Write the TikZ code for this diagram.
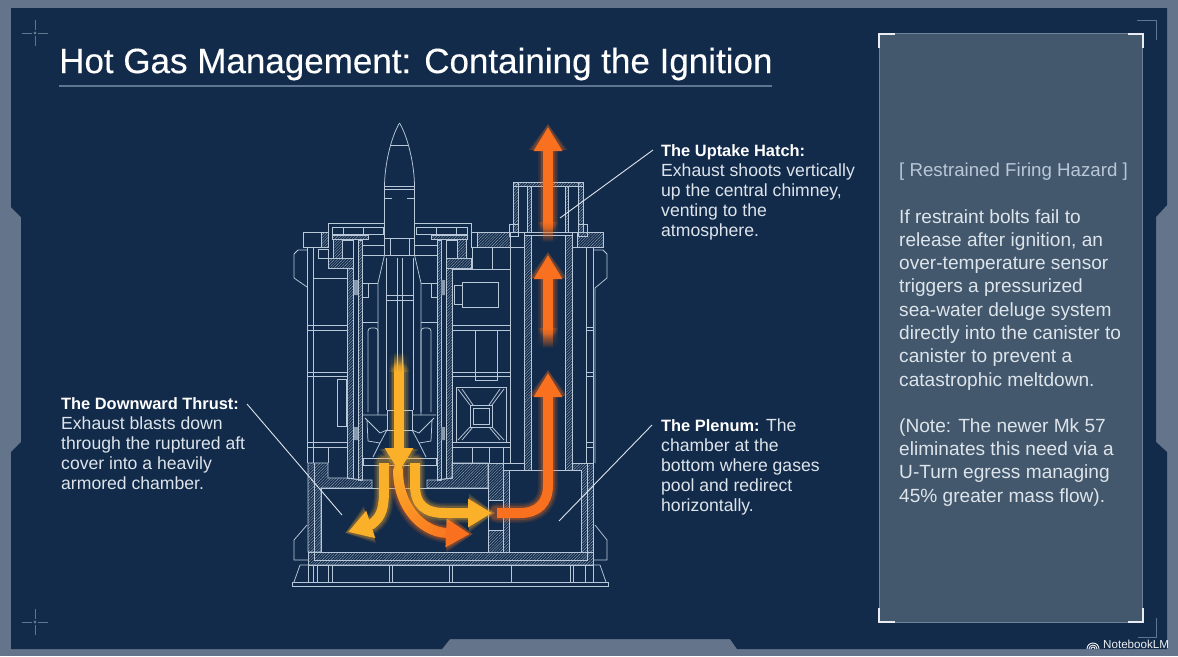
\documentclass[tikz,border=0pt]{standalone}
\usepackage{fontspec}
\setmainfont{Liberation Sans}
\usetikzlibrary{arrows.meta, patterns.meta, fadings, decorations.markings}
\definecolor{framegrey}{HTML}{64748A}
\definecolor{navybg}{HTML}{132B4A}
\definecolor{panelgrey}{HTML}{43586C}
\definecolor{panelline}{HTML}{6E8399}
\definecolor{wirecol}{HTML}{B9C8D8}
\definecolor{hatchcol}{HTML}{8FA3B8}
\definecolor{markcol}{HTML}{5F7690}
\definecolor{flowyellow}{HTML}{FBB02A}
\definecolor{floworange}{HTML}{F9701E}
\definecolor{bodytext}{HTML}{DDE4EB}
\tikzstyle{wire} = [draw=wirecol, line width=0.75pt]
\tikzstyle{hatchwall} = [wire, pattern={Lines[angle=45,distance=2pt,line width=0.4pt]}, pattern color=hatchcol]
\tikzstyle{leader} = [draw=bodytext, line width=0.9pt]
\tikzstyle{bracket} = [draw=white!85!panelline, line width=2.5pt]
\tikzstyle{outerbracket} = [draw=markcol, line width=1pt]
\tikzstyle{callout} = [anchor=north west, align=left, inner sep=0pt, text=bodytext, font=\fontsize{17.6}{20}\selectfont]
\tikzstyle{panelnote} = [anchor=north west, align=left, inner sep=0pt, text=bodytext, font=\fontsize{19.1}{23.3}\selectfont]
\tikzfading[name=fadedown, top color=transparent!0, bottom color=transparent!100]
\tikzfading[name=fadeup, top color=transparent!100, bottom color=transparent!0]
\newcommand{\calloutbold}[1]{{\fontsize{16.4}{20}\selectfont\bfseries\color{white}#1}}
\newcommand{\flowarrow}[2]{%
  \foreach \gw/\gt/\go in {20/38/0.10, 17/35/0.14, 14/31/0.22}
    \draw[#1, line width=\gw pt, opacity=\go, line cap=round, shorten >=-3pt, -{Triangle[length=26pt,width=\gt pt]}] #2;
  \draw[#1, line width=10pt, -{Triangle[length=24pt,width=27pt]}] #2;
}
\newcommand{\flowtail}[4]{%
  \foreach \gw/\go in {10/0.10, 8/0.16, 5/1}
    \fill[#1, opacity=\go, path fading=#4] (\the\numexpr#2-\gw\relax,#3) ++(0,0) rectangle ++(2*\gw,20);
}
% half of the canister and rocket, mirrored about the centre line
\newcommand{\halfstack}{%
  % rocket
  \draw[wire] (399.5,123) .. controls (391,137) and (384.5,165) .. (384.5,187) -- (384.5,255) -- (378,283) -- (378,415);
  \draw[wire] (391,145) -- (399.5,145) (384.5,186) -- (399.5,186) (384.5,189) -- (399.5,189) (384.5,198) -- (392,198);
  \draw[wire] (384.5,238) -- (399.5,238) (390,238) -- (390,255) (384.5,255) -- (399.5,255);
  \draw[wire] (386,258) -- (386,410) (397,258) -- (397,410) (386,295) -- (399.5,295) (386,300) -- (399.5,300);
  \draw[wire] (399.5,410) -- (387,410) -- (387,430) -- (399.5,430);
  % top flange
  \draw[wire] (384,223) -- (328,223) -- (328,247);
  \draw[wire] (332,227) rectangle (383,234) (343,227) -- (343,234) (363,227) -- (363,234);
  \draw[hatchwall] (332,235) rectangle (368,239);
  \draw[hatchwall] (333,239) rectangle (342,258);
  \draw[hatchwall] (328,258) -- (353,258) -- (353,268) -- (328,268) -- cycle;
  \draw[wire] (342,240) -- (353,240) -- (353,258) (362,245) -- (384,245) (362,255) -- (384,255);
  % canister walls
  \draw[hatchwall] (347,268) rectangle (353,478);
  \draw[hatchwall] (358,240) rectangle (362,480);
  \draw[wire] (347,478) -- (362,480);
  \fill[wirecol!70!navybg] (354,280) rectangle (358,295) (354,427) rectangle (358,440);
  % missile collar and slots
  \draw[wire] (362,283) -- (378,283) (368,283) -- (368,297) -- (362,297) (362,322) -- (378,322);
  \draw[wire, rounded corners=3pt] (368,412) -- (368,328) -- (378,328) -- (378,412);
  % nozzle
  \draw[wire] (363,415) -- (387,415) (387,430) -- (380,443) -- (373,457) (365,418) -- (380,433) -- (387,430) (367,420) -- (368,441) -- (380,443);
  \draw[wire] (399.5,458) -- (363,458) -- (363,465) -- (399.5,465);
}
\begin{document}
\begin{tikzpicture}[x=1pt, y=-1pt]
    \useasboundingbox (0,0) rectangle (1178,656);
    % Frame
    \fill[framegrey] (0,0) rectangle (1178,656);
    \fill[navybg] (11,8) -- (1167,8) -- (1167,205) -- (1156,217) -- (1156,442) -- (1167,452) -- (1167,649) -- (737,649) -- (730,639) -- (450,639) -- (442,649) -- (11,649) -- (11,452) -- (21,442) -- (21,217) -- (11,207) -- cycle;

    % Crosshair marks
    \foreach \cy in {33,622} {
        \draw[markcol, line width=0.8pt] (22,\cy) -- (32,\cy) (38,\cy) -- (48,\cy);
        \draw[markcol, line width=0.8pt] (35,\cy-13) -- (35,\cy-3) (35,\cy+3) -- (35,\cy+13);
        \fill[markcol] (35,\cy) circle (1.6);
    }

    % Title
    \node[anchor=west, inner sep=0pt, text=white, font=\fontsize{35}{40}\selectfont\addfontfeature{FakeBold=0.3}] (title) at (59,64) {Hot Gas Management: Containing the Ignition};
    \draw[draw=markcol, line width=1.2pt] (59,86) -- (772,86);

    % Canister section
    \halfstack
    \begin{scope}[xshift=799, xscale=-1]
        \halfstack
    \end{scope}

    % Deck plates
    \draw[wire] (303,232) rectangle (328,247);
    \draw[hatchwall] (321,232) rectangle (328,247);
    \draw[wire] (471,232) rectangle (524,247);
    \draw[wire] (572,232) rectangle (603,247);
    \draw[wire] (524,232) -- (572,232) (524,235) -- (565,235);
    \draw[hatchwall] (477,232) rectangle (510,247);
    \draw[hatchwall] (577,232) rectangle (603,247);

    % Chimney
    \draw[hatchwall] (513,182) rectangle (518,232);
    \draw[hatchwall] (578,182) rectangle (583,232);
    \draw[hatchwall] (513,182) rectangle (583,186);
    \draw[hatchwall] (527,186) rectangle (531,232);
    \draw[hatchwall] (565,186) rectangle (568,232);
    \draw[wire] (509,224) rectangle (518,236) (578,224) rectangle (587,236);
    \draw[hatchwall] (524,235) rectangle (531,470);
    \draw[hatchwall] (565,235) rectangle (572,470);

    % Left bay
    \draw[wire] (307,247) -- (307,463) (313,247) -- (313,463) (313,278) -- (347,278);
    \draw[wire] (318,249) rectangle (328,258);
    \foreach \by in {325,330,372,376,442,447}
        \draw[wire] (308,\by) -- (347,\by);
    \draw[wire] (337,379) rectangle (346,426) (328,447) -- (328,463);

    % Right bay
    \draw[wire] (453,269) -- (510,269) (472,248) -- (472,269) (492,248) -- (492,269) (510,247) -- (510,463);
    \draw[wire] (462,282) rectangle (498,307) (454,285) rectangle (462,304);
    \foreach \by in {325,330,372,376,442,447}
        \draw[wire] (453,\by) -- (510,\by);
    \draw[wire] (475,330) -- (475,380) -- (497,380) -- (497,330);
    \draw[wire] (472,447) -- (472,463) (489,447) -- (489,463) (503,447) -- (503,463);
    \draw[wire] (456,387) rectangle (506,442) (470,405) rectangle (492,427) (473,408) rectangle (489,424);
    \draw[wire] (458,389) -- (470,405) (504,389) -- (492,405) (458,440) -- (470,427) (504,440) -- (492,427);
    \draw[wire] (462,389) -- (473,405) (500,389) -- (489,405) (462,440) -- (473,427) (500,440) -- (489,427);

    % Outer shell
    \draw[wire] (586,247) -- (586,463) (593,247) -- (593,463) (586,327) -- (593,327) (586,330) -- (593,330) (586,372) -- (593,372) (586,376) -- (593,376) (586,442) -- (593,442) (586,447) -- (593,447);
    \draw[wire] (307,250) -- (298,250) -- (294,254) -- (294,278) -- (307,287);
    \draw[wire] (307,525) -- (294,540) -- (294,560) -- (308,560);
    \draw[wire] (593,250) -- (603,250) -- (607,254) -- (607,278) -- (595,288) -- (595,463);
    \draw[wire] (595,525) -- (607,540) -- (607,560) -- (593,560);

    % Plenum chamber
    \draw[hatchwall] (321,488) -- (321,552) -- (308,552) -- (308,463) -- (328,463) -- (328,478) -- (347,478) -- (362,480) -- (372,480) -- (372,488) -- cycle;
    \draw[hatchwall] (427,488) -- (488,488) -- (488,463) -- (452,463) -- (452,478) -- (437,480) -- (427,480) -- cycle;
    \draw[hatchwall] (488,463) rectangle (503,500);
    \draw[hatchwall] (488,530) rectangle (503,552);
    \draw[hatchwall] (503,470) rectangle (509,552);
    \draw[hatchwall] (572,463) -- (593,463) -- (593,552) -- (581,552) -- (581,470) -- (572,470) -- cycle;
    \draw[hatchwall] (308,552) rectangle (593,565);
    \draw[wire] (314,463) -- (314,560) -- (587,560) -- (587,463);
    \draw[wire] (452,463) -- (524,463) (488,500) -- (503,500) (488,530) -- (503,530);
    \draw[wire] (321,488) rectangle (488,552);
    \draw[wire] (509,470) rectangle (581,552);

    % Base
    \draw[wire] (300,565) -- (600,565) (300,565) -- (294,582) (600,565) -- (606,582);
    \draw[wire] (292,582) rectangle (608,586);
    \foreach \vx in {308,313,317,328,332,389,392,449,452,511,570,573,585,593}
        \draw[wire] (\vx,565) -- (\vx,582);

    % Hot gas flow
    \flowarrow{floworange}{(548,222) -- (548,127)}
    \flowtail{floworange}{548}{222}{fadedown}
    \flowarrow{floworange}{(548,328) -- (548,255)}
    \flowtail{floworange}{548}{328}{fadedown}
    \flowarrow{floworange}{(497,513) -- (520,513) .. controls (538,513) and (548,503) .. (548,485) -- (548,373)}
    \flowarrow{flowyellow}{(384,463) -- (384,488) .. controls (384,508) and (382,516) .. (372,524) -- (348,532)}
    \flowarrow{floworange}{(398,470) .. controls (398,505) and (420,531) .. (446,533) -- (470,534)}
    \path[decoration={markings, mark=between positions 0 and 0.76 step 0.02 with {
        \pgfmathsetmacro\mixval{max(0,100-2.2*\pgfkeysvalueof{/pgf/decoration/mark info/sequence number})}
        \fill[flowyellow!\mixval!floworange] (0,0) circle (5);}}, decorate]
        (398,470) .. controls (398,505) and (420,531) .. (446,533) -- (470,534);
    \flowarrow{flowyellow}{(415,463) -- (415,485) .. controls (415,505) and (425,513) .. (445,513) -- (492,513)}
    \flowarrow{flowyellow}{(399,372) -- (399,472)}
    \flowtail{flowyellow}{399}{352}{fadeup}

    % Callouts
    \node[callout] (uptake) at (661,144) {\calloutbold{The Uptake Hatch:}\\Exhaust shoots vertically\\up the central chimney,\\venting to the\\atmosphere.};
    \node[callout] (downward) at (61,397) {\calloutbold{The Downward Thrust:}\\Exhaust blasts down\\through the ruptured aft\\cover into a heavily\\armored chamber.};
    \node[callout] (plenum) at (661,419) {\calloutbold{The Plenum:} The\\chamber at the\\bottom where gases\\pool and redirect\\horizontally.};

    \coordinate (uptakestart) at (653,150);
    \coordinate (uptakeend) at (560,218);
    \coordinate (downstart) at (247,404);
    \coordinate (downend) at (342,515);
    \coordinate (plenumstart) at (652,425);
    \coordinate (plenumend) at (559,521);
    \draw[leader] (uptakestart) -- (uptakeend);
    \draw[leader] (downstart) -- (downend);
    \draw[leader] (plenumstart) -- (plenumend);

    % Hazard panel
    \node[draw=panelline, fill=panelgrey, line width=1pt, inner sep=0pt, minimum width=263, minimum height=589] (panel) at (1011,328) {};
    \draw[bracket] (879,48) -- (879,34) -- (895,34);
    \draw[bracket] (1128,34) -- (1143,34) -- (1143,48);
    \draw[bracket] (879,608) -- (879,622) -- (895,622);
    \draw[bracket] (1128,622) -- (1143,622) -- (1143,608);
    \draw[outerbracket] (1137,20) -- (1156,20) -- (1156,40);
    \draw[outerbracket] (1138,637) -- (1156,637) -- (1156,618);
    \node[anchor=west, inner sep=0pt, text=wirecol, font=\fontsize{18.7}{22}\selectfont] (hazardhead) at (899,172) {[ Restrained Firing Hazard ]};
    \node[panelnote] (hazardtext) at (899,209) {If restraint bolts fail to\\release after ignition, an\\over-temperature sensor\\triggers a pressurized\\sea-water deluge system\\directly into the canister to\\canister to prevent a\\catastrophic meltdown.\\[22.7pt](Note: The newer Mk 57\\eliminates this need via a\\U-Turn egress managing\\45\% greater mass flow).};

    % Watermark
    \node[anchor=west, inner sep=0pt, text=white!90!framegrey, font=\fontsize{11.6}{14}\selectfont] (notebook) at (1103,644) {NotebookLM};
    \foreach \ar in {2,4,6}
        \draw[white!90!framegrey, line width=0.9pt] (1093-\ar,649) arc (180:360:\ar);
\end{tikzpicture}
\end{document}
